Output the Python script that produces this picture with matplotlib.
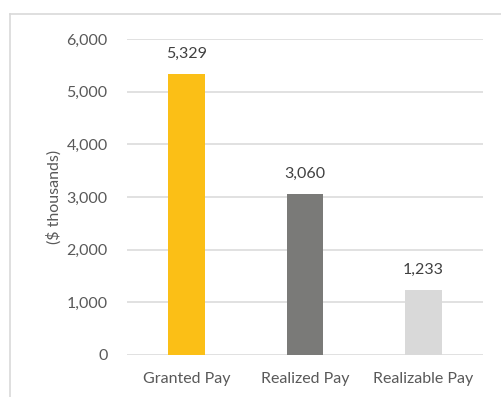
import matplotlib.pyplot as plt
from matplotlib.lines import Line2D

categories = ['Granted Pay', 'Realized Pay', 'Realizable Pay']
values = [5329, 3060, 1233]
colors = ['#FBBF16', '#7A7A78', '#D9D9D9']
yticks = [0, 1000, 2000, 3000, 4000, 5000, 6000]

plt.rcParams['font.family'] = ['Lato', 'DejaVu Sans']
text_color = '#595959'
fs = 11.5

fig = plt.figure(figsize=(5.02, 3.97), dpi=100)
ax = fig.add_axes([0.253, 0.106, 0.709, 0.796])

x = range(len(categories))
bars = ax.bar(x, values, width=0.31, color=colors, zorder=3)

for rect, v in zip(bars, values):
    ax.text(rect.get_x() + rect.get_width() / 2, v + 250, f'{v:,}',
            ha='center', va='bottom', fontsize=fs, color='#404040')

ax.set_xlim(-0.5, 2.5)
ax.set_ylim(0, 6000)
ax.set_yticks(yticks)
ax.set_yticklabels([f'{t:,}' for t in yticks])
ax.set_xticks(list(x))
ax.set_xticklabels(categories)
ax.tick_params(axis='both', length=0, labelsize=fs, labelcolor=text_color)
ax.tick_params(axis='y', pad=14)
ax.tick_params(axis='x', pad=12)
ax.grid(axis='y', color='#D9D9D9', linewidth=1.1, zorder=0)
for s in ax.spines.values():
    s.set_visible(False)

ax.set_ylabel('($ thousands)', fontsize=fs, color=text_color, labelpad=3)

# light chart-area border on top and left
fig.add_artist(Line2D([10 / 502, 1], [1 - 14 / 397] * 2, color='#D9D9D9', lw=1.2))
fig.add_artist(Line2D([10 / 502] * 2, [0, 1 - 14 / 397], color='#D9D9D9', lw=1.2))

fig.savefig('out.png', dpi=100)
